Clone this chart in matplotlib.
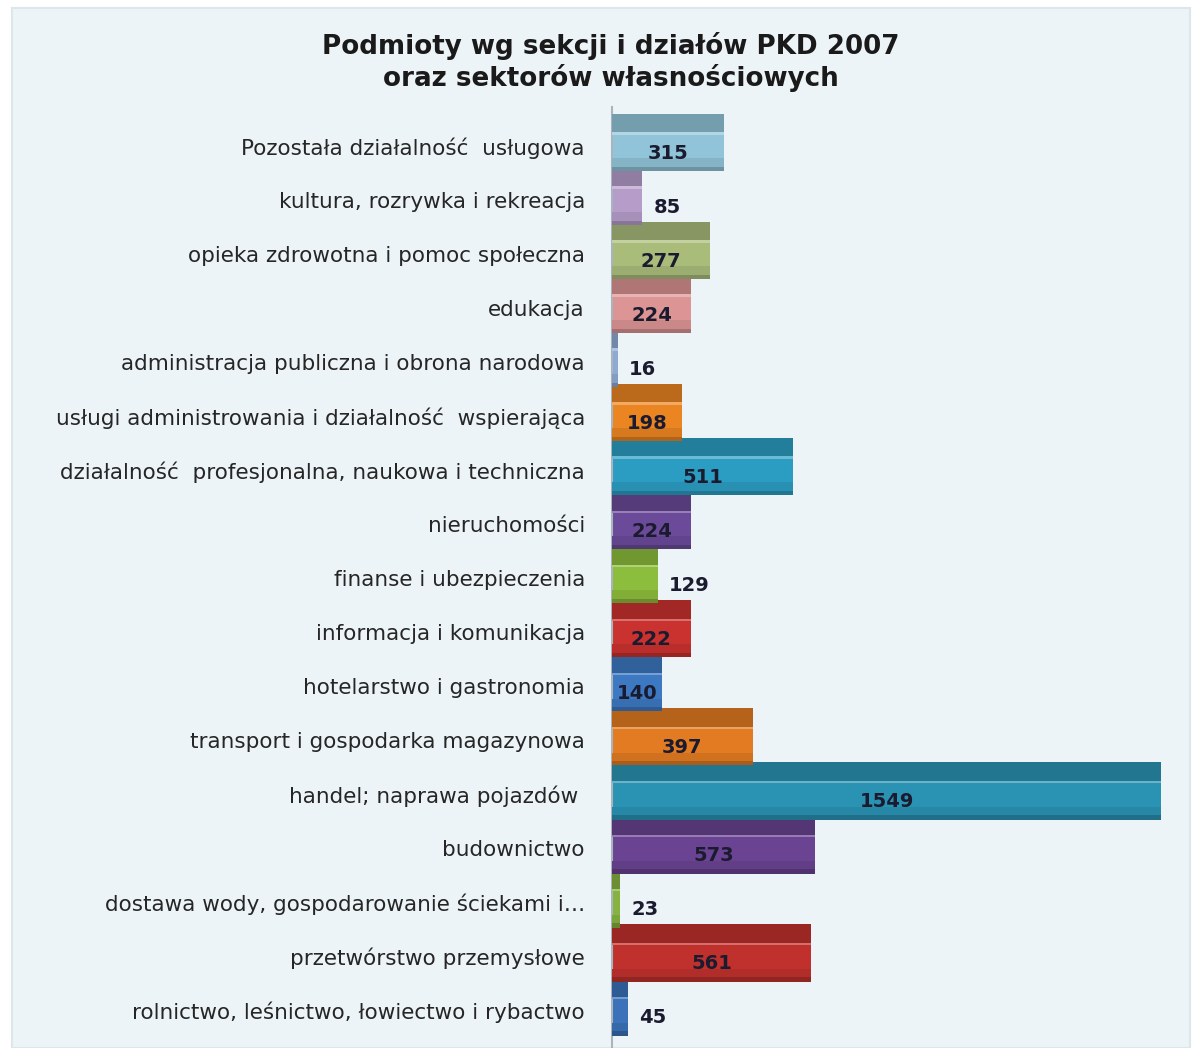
import matplotlib
matplotlib.use("Agg")
import matplotlib.pyplot as plt
from matplotlib.patches import Rectangle
from matplotlib.colors import to_rgb
import numpy as np

# data, bottom to top as in the chart
categories = [
    "rolnictwo, leśnictwo, łowiectwo i rybactwo",
    "przetwórstwo przemysłowe",
    "dostawa wody, gospodarowanie ściekami i…",
    "budownictwo",
    "handel; naprawa pojazdów ",
    "transport i gospodarka magazynowa",
    "hotelarstwo i gastronomia",
    "informacja i komunikacja",
    "finanse i ubezpieczenia",
    "nieruchomości",
    "działalność  profesjonalna, naukowa i techniczna",
    "usługi administrowania i działalność  wspierająca",
    "administracja publiczna i obrona narodowa",
    "edukacja",
    "opieka zdrowotna i pomoc społeczna",
    "kultura, rozrywka i rekreacja",
    "Pozostała działalność  usługowa",
]
values = [45, 561, 23, 573, 1549, 397, 140, 222, 129, 224, 511, 198, 16, 224, 277, 85, 315]
colors = ["#3b72b9", "#c0312d", "#86b33f", "#6a4392", "#2a93b4", "#e27b22",
          "#3c79c2", "#c9322e", "#8dbd3d", "#6b4a9a", "#2c9dc2", "#ea8522",
          "#8eaad2", "#dc9494", "#a9bc7a", "#b59cc9", "#91c4d8"]

W, H = 1196, 1048
fig = plt.figure(figsize=(W / 100, H / 100), dpi=100, facecolor="white")

# chart panel
fig.patches.append(Rectangle((12 / W, 0), (1190 - 12) / W, (H - 8) / H,
                             transform=fig.transFigure, facecolor="#edf4f7",
                             edgecolor="#dde6ea", linewidth=1.5, zorder=-10))

ax = fig.add_axes([612 / W, 0.0, (1165 - 612) / W, (H - 107) / H])
ax.set_facecolor("none")
ax.set_xlim(0, 1560)
ax.set_ylim(-0.76, 16.66)

def shade(c, f):
    r, g, b = to_rgb(c)
    if f < 1:
        return (r * f, g * f, b * f)
    return (r + (1 - r) * (f - 1), g + (1 - g) * (f - 1), b + (1 - b) * (f - 1))

y = np.arange(len(values))
bh = 1.06
ax.barh(y, values, height=bh, color=colors, zorder=2)
# darker top face
ax.barh(y + bh / 2 - 0.17, values, height=0.34, color=[shade(c, 0.8) for c in colors], zorder=3)
# highlight line between top and front
ax.barh(y + bh / 2 - 0.365, values, height=0.05, color=[shade(c, 1.3) for c in colors], zorder=3)
# slightly darker lower part of the front face
ax.barh(y - bh / 2 + 0.14, values, height=0.2, color=[shade(c, 0.92) for c in colors], zorder=3)
# darker bottom edge
ax.barh(y - bh / 2 + 0.04, values, height=0.08, color=[shade(c, 0.75) for c in colors], zorder=3)

for yi, v in zip(y, values):
    if v >= 140:
        ax.text(v / 2, yi - 0.2, str(v), ha="center", va="center", fontsize=14,
                fontweight="bold", color="#1b1b30", family="DejaVu Sans", zorder=5)
    else:
        ax.text(v + 32, yi - 0.2, str(v), ha="left", va="center", fontsize=14,
                fontweight="bold", color="#1b1b30", family="DejaVu Sans", zorder=5)

# category labels, right aligned left of the axis
for yi, name in zip(y, categories):
    ax.annotate(name, xy=(0, yi - 0.1), xycoords=("axes fraction", "data"),
                xytext=(-19.5, 0), textcoords="offset points", ha="right", va="center",
                fontsize=15.5, family="DejaVu Sans", color="#262626")

ax.set_yticks([])
ax.set_xticks([])
for s in ["top", "right", "bottom"]:
    ax.spines[s].set_visible(False)
ax.spines["left"].set_color("#a9b4bc")
ax.spines["left"].set_linewidth(1.5)

fig.text(611 / W, 1 - 46 / H, "Podmioty wg sekcji i działów PKD 2007", ha="center", va="center",
         fontsize=18.8, fontweight="bold", family="DejaVu Sans", color="#1a1a1a")
fig.text(611 / W, 1 - 78 / H, "oraz sektorów własnościowych", ha="center", va="center",
         fontsize=18.8, fontweight="bold", family="DejaVu Sans", color="#1a1a1a")

fig.savefig("out.png", dpi=100, facecolor="white")
